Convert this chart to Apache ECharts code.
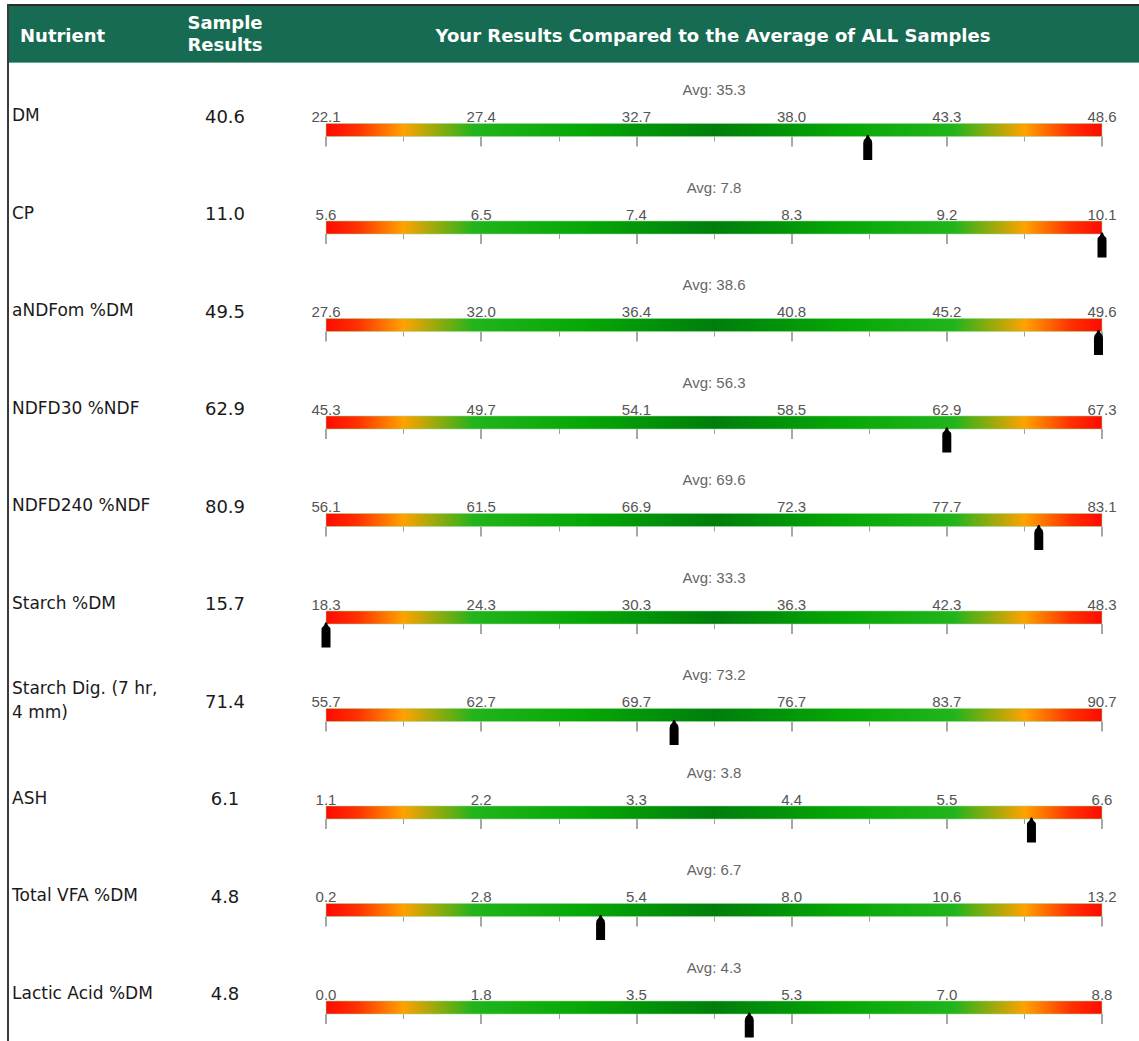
<!DOCTYPE html>
<html>
<head>
<meta charset="utf-8">
<title>Nutrient results vs average of all samples</title>
<script src="https://cdn.jsdelivr.net/npm/echarts@6/dist/echarts.min.js"></script>
<style>
  html, body { margin: 0; padding: 0; background: #ffffff; }
  #chart { width: 1139px; height: 1041px; }
</style>
</head>
<body>
<div id="chart"></div>
<script>
// ---- data ----
const nutrients = [
  'DM', 'CP', 'aNDFom %DM', 'NDFD30 %NDF', 'NDFD240 %NDF',
  'Starch %DM', 'Starch Dig. (7 hr,\n4 mm)', 'ASH', 'Total VFA %DM', 'Lactic Acid %DM'
];
const sampleResults = [40.6, 11.0, 49.5, 62.9, 80.9, 15.7, 71.4, 6.1, 4.8, 4.8];
const averages = [35.3, 7.8, 38.6, 56.3, 69.6, 33.3, 73.2, 3.8, 6.7, 4.3];

// scale labels of each gauge (first and last give the gauge range)
const tickDM        = ['22.1', '27.4', '32.7', '38.0', '43.3', '48.6'];
const tickCP        = ['5.6', '6.5', '7.4', '8.3', '9.2', '10.1'];
const tickNDF       = ['27.6', '32.0', '36.4', '40.8', '45.2', '49.6'];
const tickNDFD30    = ['45.3', '49.7', '54.1', '58.5', '62.9', '67.3'];
const tickNDFD240   = ['56.1', '61.5', '66.9', '72.3', '77.7', '83.1'];
const tickStarch    = ['18.3', '24.3', '30.3', '36.3', '42.3', '48.3'];
const tickStarchDig = ['55.7', '62.7', '69.7', '76.7', '83.7', '90.7'];
const tickAsh       = ['1.1', '2.2', '3.3', '4.4', '5.5', '6.6'];
const tickVFA       = ['0.2', '2.8', '5.4', '8.0', '10.6', '13.2'];
const tickLactic    = ['0.0', '1.8', '3.5', '5.3', '7.0', '8.8'];
const tickLabels = [tickDM, tickCP, tickNDF, tickNDFD30, tickNDFD240,
                    tickStarch, tickStarchDig, tickAsh, tickVFA, tickLactic];

// ---- layout ----
const BAR_LEFT = 326, BAR_WIDTH = 776, BAR_H = 13;
const ROW_TOP0 = 123.5, ROW_STEP = 97.5;
const LABEL_FONT = '"DejaVu Sans", Verdana, sans-serif';
const SCALE_FONT = '"Liberation Sans", Arial, sans-serif';

// red -> orange -> green -> dark green -> green -> orange -> red
const barGradient = () => new echarts.graphic.LinearGradient(0, 0, 1, 0, [
  { offset: 0.00, color: '#ff0a00' },
  { offset: 0.04, color: '#ff3000' },
  { offset: 0.10, color: '#ffa200' },
  { offset: 0.19, color: '#22b41c' },
  { offset: 0.33, color: '#06a806' },
  { offset: 0.50, color: '#007e0c' },
  { offset: 0.67, color: '#06a806' },
  { offset: 0.81, color: '#22b41c' },
  { offset: 0.90, color: '#ffa200' },
  { offset: 0.96, color: '#ff3000' },
  { offset: 1.00, color: '#ff0a00' }
]);

const grids = [], xAxes = [], yAxes = [], series = [], graphics = [];

tickLabels.forEach((labels, i) => {
  const min = parseFloat(labels[0]);
  const max = parseFloat(labels[labels.length - 1]);
  const n = labels.length - 1;
  const step = (max - min) / n;
  const major = labels.map((_, k) => min + k * step);
  const minor = major.slice(0, -1).map((v, k) => (v + major[k + 1]) / 2);
  const top = ROW_TOP0 + i * ROW_STEP;

  grids.push({ left: BAR_LEFT, width: BAR_WIDTH, top: top, height: BAR_H });

  // major ticks + scale labels
  xAxes.push({
    type: 'value', gridIndex: i, min: min, max: max, position: 'bottom',
    axisLine: { show: false }, splitLine: { show: false },
    axisTick: { show: true, customValues: major, length: 10,
                lineStyle: { color: '#8a8a8a', width: 1.5 } },
    axisLabel: {
      show: true, customValues: major, inside: true, margin: 20,
      verticalAlign: 'middle', color: '#555', fontSize: 15, fontFamily: SCALE_FONT,
      formatter: v => labels[Math.round((v - min) / step)]
    }
  });
  // minor ticks between the labelled ones
  xAxes.push({
    type: 'value', gridIndex: i, min: min, max: max, position: 'bottom',
    axisLine: { show: false }, splitLine: { show: false }, axisLabel: { show: false },
    axisTick: { show: true, customValues: minor, length: 5,
                lineStyle: { color: '#a0a0a0', width: 1 } }
  });
  yAxes.push({ type: 'value', gridIndex: i, min: 0, max: 1, show: false });

  series.push({
    type: 'custom', xAxisIndex: 2 * i, yAxisIndex: i, clip: false,
    data: [[sampleResults[i], 0]],
    renderItem: (params, api) => {
      const tl = api.coord([min, 1]);
      const br = api.coord([max, 0]);
      const mid = api.coord([(min + max) / 2, 1]);
      const v = Math.min(max, Math.max(min, api.value(0)));
      const m = api.coord([v, 0]);
      const x = m[0], y = br[1] - 1.5;
      return {
        type: 'group',
        children: [
          { type: 'rect',
            shape: { x: tl[0], y: tl[1], width: br[0] - tl[0], height: br[1] - tl[1] },
            style: { fill: barGradient(), stroke: 'rgba(150,220,150,0.55)', lineWidth: 1 } },
          { type: 'text', x: mid[0], y: tl[1] - 34,
            style: { text: 'Avg: ' + averages[i].toFixed(1), align: 'center', verticalAlign: 'middle',
                     fill: '#666', fontSize: 15, fontFamily: SCALE_FONT } },
          { type: 'path', z2: 10,
            shape: { pathData:
              'M' + (x - 0.8) + ',' + y + ' L' + (x + 0.8) + ',' + y +
              ' L' + (x + 2) + ',' + (y + 3) +
              ' Q' + (x + 4.5) + ',' + (y + 4.5) + ' ' + (x + 4.5) + ',' + (y + 8) +
              ' L' + (x + 4.5) + ',' + (y + 25) + ' L' + (x - 4.5) + ',' + (y + 25) +
              ' L' + (x - 4.5) + ',' + (y + 8) +
              ' Q' + (x - 4.5) + ',' + (y + 4.5) + ' ' + (x - 2) + ',' + (y + 3) + ' Z' },
            style: { fill: '#000' } }
        ]
      };
    }
  });

  const cy = top + BAR_H / 2;
  graphics.push({
    type: 'text', x: 12, y: cy - 15, z: 5,
    style: { text: nutrients[i], fontSize: 17, lineHeight: 24, fontFamily: LABEL_FONT,
             fill: '#1a1a1a', verticalAlign: 'middle' }
  });
  graphics.push({
    type: 'text', x: 225, y: cy - 14, z: 5,
    style: { text: sampleResults[i].toFixed(1), fontSize: 18, fontFamily: LABEL_FONT,
             fill: '#1a1a1a', align: 'center', verticalAlign: 'middle' }
  });
});

// table header band and frame
const HEADER_FONT = '"DejaVu Sans", Verdana, sans-serif';
graphics.push(
  { type: 'rect', shape: { x: 8, y: 5, width: 1131, height: 58 }, style: { fill: '#176b52' }, z: 1 },
  { type: 'rect', shape: { x: 8, y: 4, width: 1131, height: 2 }, style: { fill: '#2b2b2b' }, z: 2 },
  { type: 'rect', shape: { x: 8, y: 62, width: 1131, height: 1 }, style: { fill: '#6aa58f' }, z: 2 },
  { type: 'rect', shape: { x: 7, y: 4, width: 2, height: 1037 }, style: { fill: '#3a3a3a' }, z: 2 },
  { type: 'text', x: 20, y: 35, z: 3,
    style: { text: 'Nutrient', fill: '#ffffff', fontSize: 18, fontWeight: 'bold',
             fontFamily: HEADER_FONT, verticalAlign: 'middle' } },
  { type: 'text', x: 225, y: 33, z: 3,
    style: { text: 'Sample\nResults', fill: '#ffffff', fontSize: 18, fontWeight: 'bold', lineHeight: 22,
             fontFamily: HEADER_FONT, align: 'center', verticalAlign: 'middle' } },
  { type: 'text', x: 713, y: 35, z: 3,
    style: { text: 'Your Results Compared to the Average of ALL Samples', fill: '#ffffff',
             fontSize: 18, fontWeight: 'bold', fontFamily: HEADER_FONT,
             align: 'center', verticalAlign: 'middle' } }
);

const chart = echarts.init(document.getElementById('chart'), null, { renderer: 'svg' });
chart.setOption({
  animation: false,
  grid: grids,
  xAxis: xAxes,
  yAxis: yAxes,
  series: series,
  graphic: graphics
});
</script>
</body>
</html>
